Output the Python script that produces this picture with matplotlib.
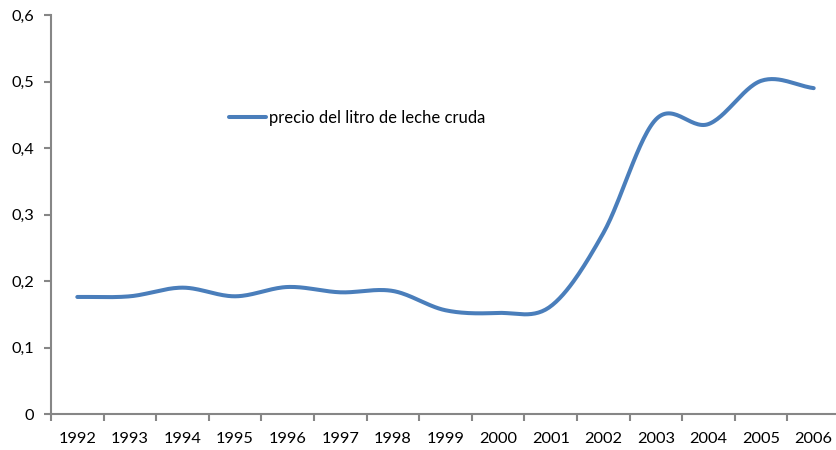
import numpy as np
import matplotlib
matplotlib.use("Agg")
import matplotlib.pyplot as plt
from matplotlib.ticker import FuncFormatter, FixedLocator

years = [str(y) for y in range(1992, 2007)]
precio = [0.176, 0.177, 0.190, 0.177, 0.191, 0.183, 0.185, 0.156, 0.152,
          0.162, 0.272, 0.443, 0.436, 0.501, 0.490]
series_label = "precio del litro de leche cruda"
yticks = [0, 0.1, 0.2, 0.3, 0.4, 0.5, 0.6]

plt.rcParams['font.family'] = ['Lato', 'DejaVu Sans']

def smooth(xs, ys, n=30):
    # Catmull-Rom smoothing similar to Excel's smoothed line
    xs = np.asarray(xs, float); ys = np.asarray(ys, float)
    px = np.concatenate([[2*xs[0]-xs[1]], xs, [2*xs[-1]-xs[-2]]])
    py = np.concatenate([[2*ys[0]-ys[1]], ys, [2*ys[-1]-ys[-2]]])
    ox, oy = [], []
    t = np.linspace(0, 1, n, endpoint=False)
    for i in range(1, len(px)-2):
        for P, out in ((px, ox), (py, oy)):
            p0, p1, p2, p3 = P[i-1], P[i], P[i+1], P[i+2]
            out.extend(0.5*((2*p1) + (-p0+p2)*t + (2*p0-5*p1+4*p2-p3)*t**2 + (-p0+3*p1-3*p2+p3)*t**3))
    ox.append(xs[-1]); oy.append(ys[-1])
    return np.array(ox), np.array(oy)

W, H = 837, 450
fig = plt.figure(figsize=(W/100, H/100), dpi=100)
ax = fig.add_axes([51/W, 1-414/H, 789/W, 399/H])

x = np.arange(len(years))
sx, sy = smooth(x, precio)
ax.plot(sx, sy, color='#4A7EBB', lw=2.9, solid_capstyle='round', label=series_label)

ax.set_xlim(-0.5, len(years)-0.5)
ax.set_ylim(0, 0.6)
ax.set_yticks(yticks)
ax.yaxis.set_major_formatter(FuncFormatter(lambda v, p: "0" if abs(v) < 1e-9 else f"{v:.1f}".replace('.', ',')))
ax.set_xticks(x)
ax.set_xticklabels(years)
ax.xaxis.set_minor_locator(FixedLocator(np.arange(-0.5, len(years), 1.0)))
ax.tick_params(axis='x', which='major', length=0, pad=13, labelsize=11.8, colors='black')
ax.tick_params(axis='x', which='minor', length=5, width=1.5, color='#868686', direction='out')
ax.tick_params(axis='y', length=5, width=1.5, color='#868686', pad=7, labelsize=11.8, labelcolor='black')

for s in ['top', 'right']:
    ax.spines[s].set_visible(False)
for s in ['left', 'bottom']:
    ax.spines[s].set_color('#868686')
    ax.spines[s].set_linewidth(1.5)

fig.legend(loc='center left', bbox_to_anchor=(229/W, 1-118/H), frameon=False,
           borderpad=0, borderaxespad=0, handlelength=2.2, handletextpad=0.2,
           fontsize=12)

fig.savefig('out.png', dpi=100)
